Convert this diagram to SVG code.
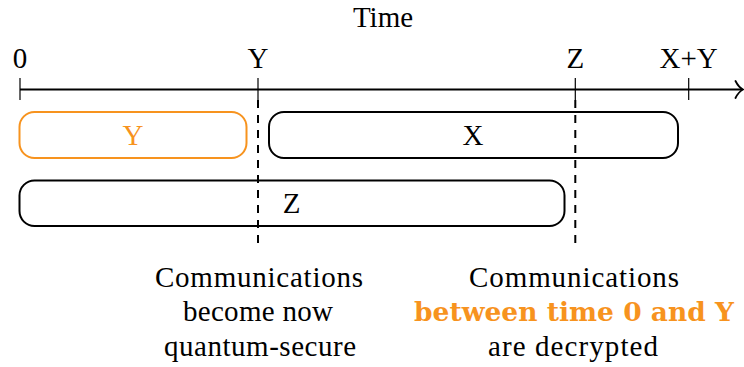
<svg xmlns="http://www.w3.org/2000/svg" width="744" height="367" viewBox="0 0 744 367">
<style>
text{font-family:'Liberation Serif','Times New Roman',serif;font-size:29px;fill:#000;text-anchor:middle}
.o{fill:#F7931E}
.b{font-family:'DejaVu Serif','Liberation Serif',serif;font-weight:bold;font-size:26.5px}
.box{fill:none;stroke:#000;stroke-width:2}
.obox{fill:none;stroke:#F7931E;stroke-width:2}
.tick{stroke:#000;stroke-width:1.2}
.axis{stroke:#000;stroke-width:1.8;fill:none}
.dash{stroke:#000;stroke-width:2;stroke-dasharray:8 7}
</style>
<rect width="744" height="367" fill="#fff"/>
<g id="title"><text x="383" y="26.5">Time</text></g>
<g id="connectors">
<line class="axis" x1="20" y1="89.5" x2="742" y2="89.5"/>
<path class="axis" stroke-linecap="round" d="M735.5,81 C737.5,85 740,88 743,89.5 C740,91 737.5,94 735.5,98"/>
<line class="dash" x1="258" y1="100" x2="258" y2="248"/>
<line class="dash" x1="575.3" y1="100" x2="575.3" y2="248"/>
</g>
<g id="tick-0"><line class="tick" x1="20" y1="78" x2="20" y2="100"/><text x="20" y="68">0</text></g>
<g id="tick-Y"><line class="tick" x1="258" y1="78" x2="258" y2="100"/><text x="258" y="68">Y</text></g>
<g id="tick-Z"><line class="tick" x1="575.3" y1="78" x2="575.3" y2="100"/><text x="575.3" y="68">Z</text></g>
<g id="tick-XY"><line class="tick" x1="688.7" y1="78" x2="688.7" y2="100"/><text x="688.7" y="68">X+Y</text></g>
<g id="box-Y"><rect class="obox" x="19.5" y="112" width="227" height="46" rx="15"/><text class="o" x="133" y="145">Y</text></g>
<g id="box-X"><rect class="box" x="269" y="112" width="409" height="46" rx="15"/><text x="473" y="145">X</text></g>
<g id="box-Z"><rect class="box" x="19.5" y="180.5" width="545" height="45.5" rx="15"/><text x="291.5" y="213">Z</text></g>
<g id="note-left">
<text x="259" y="287" textLength="208" lengthAdjust="spacing">Communications</text>
<text x="258" y="321" textLength="150" lengthAdjust="spacing">become now</text>
<text x="260" y="356" textLength="192" lengthAdjust="spacing">quantum-secure</text>
</g>
<g id="note-right">
<text x="574" y="287" textLength="210" lengthAdjust="spacing">Communications</text>
<text class="o b" x="574" y="321">between time 0 and Y</text>
<text x="573" y="356" textLength="170" lengthAdjust="spacing">are decrypted</text>
</g>
</svg>
